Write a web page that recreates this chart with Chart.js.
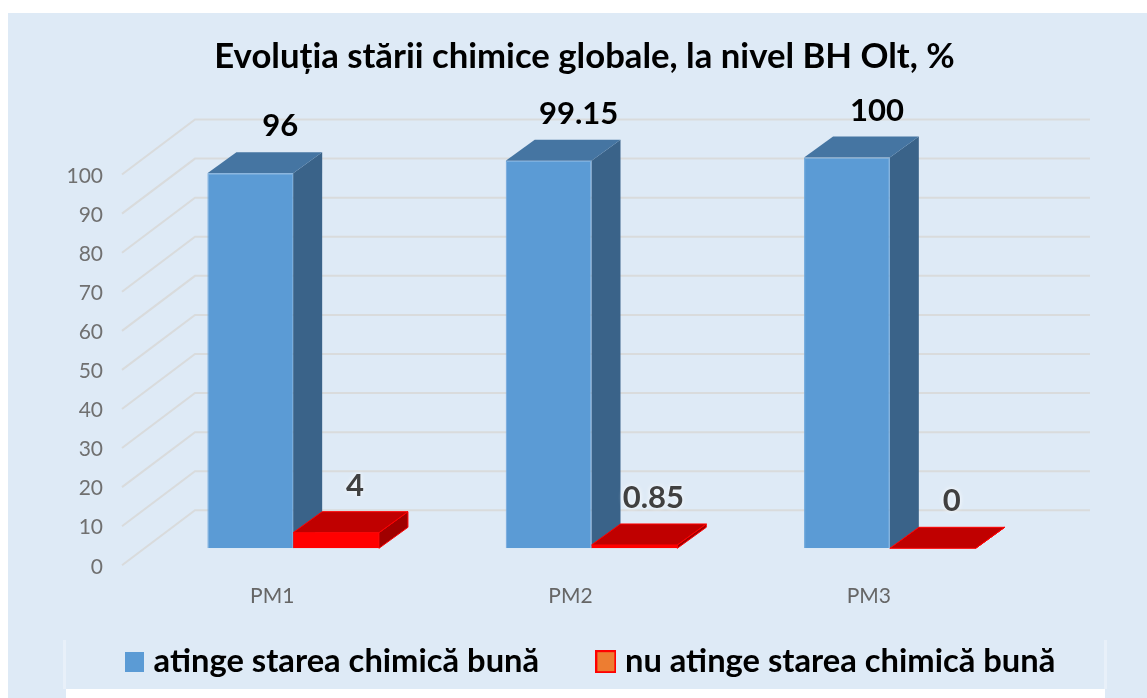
<!DOCTYPE html>
<html>
<head>
<meta charset="utf-8">
<script src="https://cdn.jsdelivr.net/npm/chart.js@4/dist/chart.umd.js"></script>
<style>
body { margin: 0; background: #fff; }
canvas { display: block; }
</style>
</head>
<body>
<canvas id="grafic" width="1147" height="698"></canvas>
<script>
"use strict"
const categories = ["PM1", "PM2", "PM3"];
const atinge = [96, 99.15, 100];
const nuAtinge = [4, 0.85, 0];
const seriesNames = ["atinge starea chimică bună", "nu atinge starea chimică bună"];
const titleText = "Evoluția stării chimice globale, la nivel BH Olt, %";

// depth of the bars and of the back wall, in pixels
const barDx = 29, barDy = 21;
const wallBack = { dx: 51, dy: 38, right: 1090 };
const wallFront = { dx: -22, dy: -17 };

function face(ctx, pts, fill, stroke) {
    ctx.beginPath();
    pts.forEach((p, i) => i ? ctx.lineTo(p[0], p[1]) : ctx.moveTo(p[0], p[1]));
    ctx.closePath();
    ctx.fillStyle = fill;
    ctx.fill();
    if (stroke) {
        ctx.strokeStyle = stroke;
        ctx.lineWidth = 1;
        ctx.stroke();
    }
}

// legend swatch as a small canvas, so its gap to the text can be tighter than Chart.js allows
function swatch(w, h, fill, stroke) {
    const c = document.createElement("canvas");
    c.width = w;
    c.height = h;
    const g = c.getContext("2d");
    g.fillStyle = stroke;
    g.fillRect(0, 0, w, h);
    g.fillStyle = fill;
    g.fillRect(2, 2, w - 4, h - 4);
    return c;
}

const faces = [
    { top: "#4575A2", side: "#3A6389", stroke: null, labelDx: 30, color: "#000", glow: false },
    { top: "#C00000", side: "#A00000", stroke: "#FF0000", labelDx: 19, color: "#404040", glow: true }
];

const bar3d = {
    id: "bar3d",
    beforeDraw(chart) {
        const ctx = chart.ctx;
        ctx.fillStyle = "#fff";
        ctx.fillRect(0, 0, 1147, 698);
        ctx.fillStyle = "#DEEAF6";
        ctx.fillRect(8, 13, 1139, 685);
        ctx.fillStyle = "#E8F0F9";
        ctx.fillRect(63, 640, 3, 49);
        ctx.fillRect(1104, 640, 3, 49);
        ctx.fillStyle = "#fff";
        ctx.fillRect(66, 689, 1039, 9);
    },
    beforeDatasetsDraw(chart) {
        const ctx = chart.ctx;
        const y = chart.scales.y;
        const left = chart.chartArea.left;
        ctx.save();
        ctx.strokeStyle = "#D9DBDC";
        ctx.lineWidth = 2;
        y.ticks.forEach(t => {
            const py = y.getPixelForValue(t.value);
            ctx.beginPath();
            ctx.moveTo(left + wallFront.dx, py - wallFront.dy);
            ctx.lineTo(left + wallBack.dx, py - wallBack.dy);
            ctx.lineTo(wallBack.right, py - wallBack.dy);
            ctx.stroke();
        });
        chart.data.datasets.forEach((ds, d) => {
            const f = faces[d];
            chart.getDatasetMeta(d).data.forEach(b => {
                const l = b.x - b.width / 2, r = b.x + b.width / 2;
                face(ctx, [[r, b.y], [r + barDx, b.y - barDy], [r + barDx, b.base - barDy], [r, b.base]], f.side, f.stroke);
                face(ctx, [[l, b.y], [l + barDx, b.y - barDy], [r + barDx, b.y - barDy], [r, b.y]], f.top, f.stroke);
            });
        });
        ctx.restore();
    },
    afterDatasetsDraw(chart) {
        const ctx = chart.ctx;
        ctx.save();
        ctx.font = "bold 31px Lato";
        ctx.textAlign = "center";
        ctx.textBaseline = "middle";
        chart.data.datasets.forEach((ds, d) => {
            const f = faces[d];
            chart.getDatasetMeta(d).data.forEach((b, i) => {
                ctx.fillStyle = f.color;
                ctx.shadowColor = f.glow ? "#fff" : "transparent";
                ctx.shadowBlur = f.glow ? 5 : 0;
                ctx.fillText(String(ds.data[i]), b.x + f.labelDx, b.y - 47);
            });
        });
        ctx.restore();
    },
    afterLayout(chart) {
        // title and legend are not centred on the page in the reference
        chart.titleBlock.left += 115;
        chart.titleBlock.right += 115;
        chart.legend.left += 124;
        chart.legend.right += 124;
        chart.legend.top -= 27;
        chart.legend.bottom -= 27;
    }
};

new Chart(document.getElementById("grafic"), {
    type: "bar",
    data: {
        labels: categories,
        datasets: [
            { label: seriesNames[0], data: atinge, backgroundColor: "#5B9BD5", borderColor: "#6AA5DB", borderWidth: 1 },
            { label: seriesNames[1], data: nuAtinge, backgroundColor: "#FF0000" }
        ]
    },
    options: {
        responsive: false,
        animation: false,
        // negative left: the legend row is wider than the space beside the plot
        layout: { padding: { left: -100, right: 108, bottom: -17 } },
        datasets: { bar: { categoryPercentage: 0.575, barPercentage: 1 } },
        scales: {
            x: {
                grid: { display: false },
                border: { display: false },
                afterFit(s) { s.height = 60; },
                ticks: { labelOffset: -21, padding: 27, color: "#666", font: { family: "Lato", size: 21 } }
            },
            y: {
                min: 0,
                max: 100,
                grid: { display: false },
                border: { display: false },
                afterFit(s) { s.width = 244; },
                ticks: { stepSize: 10, labelOffset: 18.5, padding: 33, color: "#707070", font: { family: "Lato", size: 21 } }
            }
        },
        plugins: {
            tooltip: { enabled: false },
            title: {
                display: true,
                text: titleText,
                color: "#000",
                font: { family: "Lato", size: 34.7, weight: "bold" },
                padding: { top: 36, bottom: 79.9 }
            },
            legend: {
                position: "bottom",
                labels: {
                    usePointStyle: true,
                    boxWidth: 5.5,
                    padding: 64,
                    color: "#000",
                    font: { family: "Lato", size: 32.7, weight: "bold" },
                    generateLabels() {
                        return seriesNames.map((text, i) => ({
                            text: text,
                            datasetIndex: i,
                            fontColor: "#000",
                            pointStyle: i ? swatch(21, 23, "#ED7D31", "#FF0000") : swatch(19, 20, "#5B9BD5", "#5B9BD5")
                        }));
                    }
                }
            }
        }
    },
    plugins: [bar3d]
});
</script>
</body>
</html>
